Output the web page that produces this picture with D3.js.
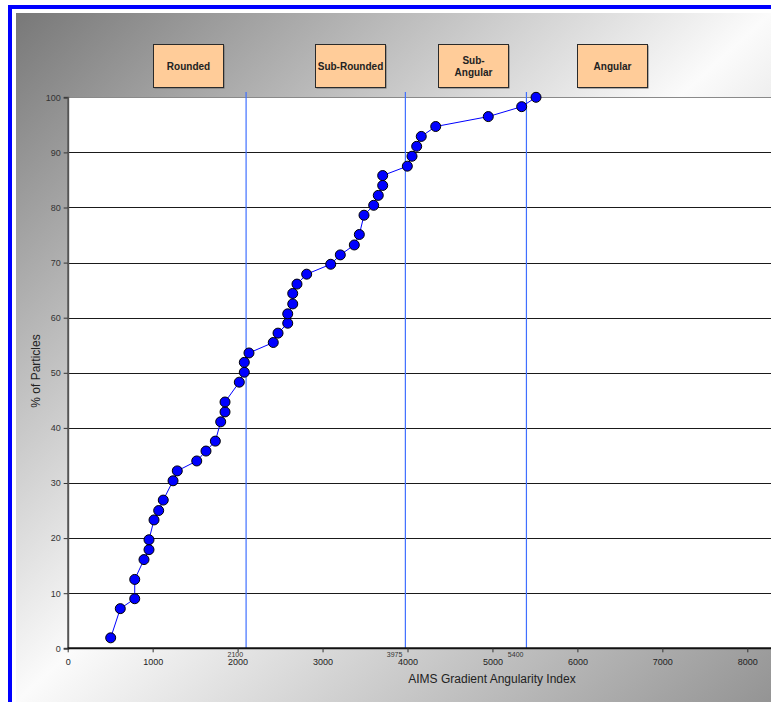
<!DOCTYPE html>
<html>
<head>
<meta charset="utf-8">
<script src="https://cdn.jsdelivr.net/npm/d3@7"></script>
<style>
  html, body { margin: 0; padding: 0; background: #ffffff; }
  svg { display: block; font-family: "Liberation Sans", Arial, sans-serif; }
</style>
</head>
<body>
<svg id="chart" width="771" height="702"></svg>
<script>
// ---- data ----
const angularity = [506, 619, 789, 789, 898, 957, 957, 1016, 1071, 1125, 1240, 1290, 1519, 1628, 1738, 1801, 1852, 1852,
  2020, 2079, 2079, 2134, 2420, 2476, 2590, 2590, 2649, 2649, 2699, 2813, 3096, 3209, 3374, 3433, 3488, 3602, 3656,
  3708, 3708, 3998, 4053, 4108, 4162, 4332, 4951, 5344, 5513];
const percentParticles = [1.9, 7.2, 9.0, 12.5, 16.1, 17.9, 19.7, 23.3, 25.0, 26.9, 30.4, 32.2, 34.0, 35.8, 37.6, 41.1, 42.9, 44.7,
  48.3, 50.1, 51.9, 53.6, 55.5, 57.2, 59.0, 60.7, 62.5, 64.4, 66.1, 67.9, 69.7, 71.4, 73.2, 75.1, 78.6, 80.4, 82.2,
  84.0, 85.8, 87.5, 89.3, 91.1, 92.9, 94.7, 96.5, 98.3, 100];
const boundaries = [2100, 3975, 5400];
const boundaryLabels = ["2100", "3975", "5400"];
const classNames = [["Rounded"], ["Sub-Rounded"], ["Sub-", "Angular"], ["Angular"]];
const classCenters = [1416, 3329, 4771, 6407];
const xTicks = [0, 1000, 2000, 3000, 4000, 5000, 6000, 7000, 8000];
const yTicks = [0, 10, 20, 30, 40, 50, 60, 70, 80, 90, 100];
const xTitle = "AIMS Gradient Angularity Index";
const yTitle = "% of Particles";

// ---- drawing ----
const svg = d3.select("#chart");
const W = 771, H = 702;

const defs = svg.append("defs");
const grad = defs.append("linearGradient").attr("id", "bg")
  .attr("x1", 0).attr("y1", 0).attr("x2", 1).attr("y2", 1);
grad.append("stop").attr("offset", 0).attr("stop-color", "#787878");
grad.append("stop").attr("offset", 0.5).attr("stop-color", "#fbfbfb");
grad.append("stop").attr("offset", 1).attr("stop-color", "#949494");

// blue frame
svg.append("rect").attr("x", 8).attr("y", 5).attr("width", W - 8).attr("height", 4).attr("fill", "#0000ff");
svg.append("rect").attr("x", 8).attr("y", 5).attr("width", 4).attr("height", H - 5).attr("fill", "#0000ff");

// gradient background
svg.append("rect").attr("x", 16).attr("y", 13).attr("width", W - 16).attr("height", H - 13).attr("fill", "url(#bg)");

const x = d3.scaleLinear().domain([0, 8000]).range([67.7, 747.3]);
const y = d3.scaleLinear().domain([0, 100]).range([648.3, 97.3]);

// plot area
svg.append("rect").attr("x", x(0)).attr("y", y(100)).attr("width", W - x(0)).attr("height", y(0) - y(100))
  .attr("fill", "#ffffff");

// gridlines
svg.append("g").selectAll("line").data(yTicks.filter(d => d > 0)).join("line")
  .attr("x1", x(0)).attr("x2", W)
  .attr("y1", d => Math.round(y(d)) + 0.5).attr("y2", d => Math.round(y(d)) + 0.5)
  .attr("stroke", d => d === 100 ? "#8a8a8a" : "#1a1a1a").attr("stroke-width", 1);

// class boundary lines
svg.append("g").selectAll("line").data(boundaries).join("line")
  .attr("x1", d => x(d)).attr("x2", d => x(d))
  .attr("y1", 92).attr("y2", y(0))
  .attr("stroke", "#3f6fff").attr("stroke-width", 1.2);

// boundary value labels
svg.append("g").selectAll("text").data(boundaries).join("text")
  .attr("x", d => x(d) - 3).attr("y", 656.5)
  .attr("text-anchor", "end").attr("font-size", 7).attr("fill", "#333")
  .text((d, i) => boundaryLabels[i]);

// axes
const yAxis = svg.append("g").attr("transform", `translate(${x(0)},0)`)
  .call(d3.axisLeft(y).tickValues(yTicks).tickSize(4).tickPadding(3).tickFormat(d3.format("d")));
yAxis.select(".domain").attr("stroke", "#555").attr("stroke-width", 2);
yAxis.selectAll(".tick line").attr("stroke", "#333");
yAxis.selectAll("text").attr("font-size", 9).attr("fill", "#333").attr("font-family", "Liberation Sans, Arial, sans-serif");

const xAxis = svg.append("g").attr("transform", `translate(0,${y(0)})`)
  .call(d3.axisBottom(x).tickValues(xTicks).tickSize(4).tickPadding(6).tickFormat(d3.format("d")));
xAxis.select(".domain").attr("stroke", "#111").attr("stroke-width", 2)
  .attr("d", `M${x(0)},0H${W}`);
xAxis.selectAll(".tick line").attr("stroke", "#333");
xAxis.selectAll("text").attr("font-size", 9).attr("fill", "#222").attr("font-family", "Liberation Sans, Arial, sans-serif");

// axis titles
svg.append("text").attr("x", 492).attr("y", 683).attr("text-anchor", "middle")
  .attr("font-size", 12).attr("fill", "#222").text(xTitle);
svg.append("text").attr("transform", "translate(40,371) rotate(-90)").attr("text-anchor", "middle")
  .attr("font-size", 12).attr("fill", "#222").text(yTitle);

// data line + markers
const pts = angularity.map((v, i) => [v, percentParticles[i]]);
svg.append("path").datum(pts)
  .attr("d", d3.line().x(d => x(d[0])).y(d => y(d[1])))
  .attr("fill", "none").attr("stroke", "#0000ff").attr("stroke-width", 1);
svg.append("g").selectAll("circle").data(pts).join("circle")
  .attr("cx", d => x(d[0])).attr("cy", d => y(d[1])).attr("r", 5)
  .attr("fill", "#0000ff").attr("stroke", "#000").attr("stroke-width", 1);

// class boxes
const boxW = 70, boxH = 43, boxTop = 44;
const boxes = svg.append("g").selectAll("g").data(classNames).join("g")
  .attr("transform", (d, i) => `translate(${Math.round(x(classCenters[i]) - boxW / 2) + 0.5},${boxTop + 0.5})`);
boxes.append("rect").attr("x", 1).attr("y", 1).attr("width", boxW).attr("height", boxH).attr("fill", "#6a6a6a");
boxes.append("rect").attr("width", boxW).attr("height", boxH)
  .attr("fill", "#ffcc99").attr("stroke", "#2a2a2a").attr("stroke-width", 1);
boxes.each(function (lines) {
  const g = d3.select(this);
  const n = lines.length;
  lines.forEach((t, j) => {
    g.append("text").attr("x", boxW / 2).attr("y", boxH / 2 + (j - (n - 1) / 2) * 12 + 3.5)
      .attr("text-anchor", "middle").attr("font-size", 10).attr("font-weight", "bold")
      .attr("fill", "#222").text(t);
  });
});
</script>
</body>
</html>
